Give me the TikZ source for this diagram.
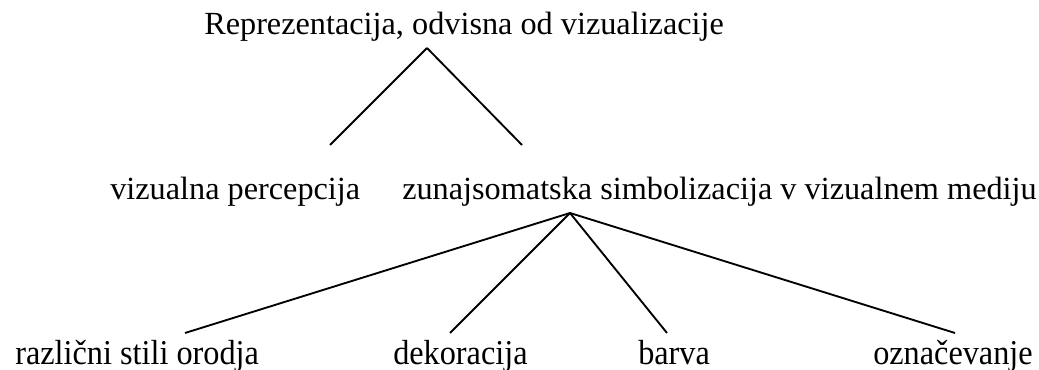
\documentclass[tikz,border=0pt]{standalone}
\usepackage{fontspec}
\setmainfont{Liberation Serif}
\usepackage{tikz}

\begin{document}
\begin{tikzpicture}[x=0.75pt, y=-0.75pt, lbl/.style={anchor=base west, inner sep=0pt, font=\fontsize{24.2}{28}\selectfont}, edge/.style={line width=1.4pt}]
    \useasboundingbox (0, 0) rectangle (1039, 370);
    \node[lbl] (rep) at (204, 35) {Reprezentacija, odvisna od vizualizacije};
    \node[lbl] (per) at (110, 200) {vizualna percepcija};
    \node[lbl] (zun) at (402, 200) {zunajsomatska simbolizacija v vizualnem mediju};
    \node[lbl, yscale=1.08] (raz) at (15, 364) {različni stili orodja};
    \node[lbl, yscale=1.08] (dek) at (393, 364) {dekoracija};
    \node[lbl, yscale=1.08] (bar) at (638, 364) {barva};
    \node[lbl, yscale=1.08] (ozn) at (873, 364) {označevanje};
    \coordinate (a) at (427, 48);
    \coordinate (b) at (330, 145);
    \coordinate (c) at (522, 145);
    \coordinate (d) at (570, 213);
    \coordinate (e) at (185, 333);
    \coordinate (f) at (450, 333);
    \coordinate (g) at (667, 333);
    \coordinate (h) at (955, 333);
    \draw [edge] (a) -- (b);
    \draw [edge] (a) -- (c);
    \draw [edge] (d) -- (e);
    \draw [edge] (d) -- (f);
    \draw [edge] (d) -- (g);
    \draw [edge] (d) -- (h);
\end{tikzpicture}
\end{document}
